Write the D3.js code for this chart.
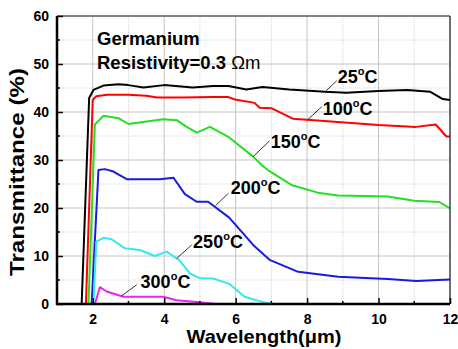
<!DOCTYPE html>
<html>
<head>
<meta charset="utf-8">
<script src="https://cdn.jsdelivr.net/npm/d3@7"></script>
<style>
  body { margin: 0; background: #fff; }
  text { font-family: "Liberation Sans", Arial, sans-serif; }
</style>
</head>
<body>
<script>
// Data (wavelength in um, transmittance in %)
let wl25 = [1, 1.69, 1.9, 2.02, 2.3, 2.72, 3.0, 3.42, 4.0, 4.8, 5.37, 5.8, 6.3, 6.75, 7.5, 8.5, 9.1, 10.0, 10.8, 11.45, 11.8, 12];
let tr25 = [0, 0, 42.9, 44.6, 45.5, 45.8, 45.6, 45.1, 45.6, 45.1, 45.4, 45.4, 44.7, 45.2, 44.7, 44.2, 44.0, 44.4, 44.6, 44.2, 42.7, 42.5];

let wl100 = [1, 1.81, 2.0, 2.1, 2.4, 3.0, 3.5, 3.8, 4.5, 5.37, 5.8, 5.98, 6.53, 6.67, 7.0, 7.6, 8.0, 10.0, 11.05, 11.6, 11.9, 12];
let tr100 = [0, 0, 42.5, 43.3, 43.6, 43.6, 43.4, 43.0, 43.0, 43.1, 43.1, 42.6, 41.9, 40.9, 40.8, 38.6, 38.4, 37.3, 36.9, 37.4, 34.9, 34.9];

let wl150 = [1, 1.88, 2.06, 2.3, 2.72, 3.0, 3.97, 4.35, 4.63, 4.91, 5.28, 5.82, 6.49, 6.72, 6.9, 7.56, 8.3, 8.87, 10.26, 11.0, 11.7, 12];
let tr150 = [0, 0, 37.4, 39.2, 38.7, 37.5, 38.5, 38.3, 36.9, 35.7, 36.9, 34.7, 30.7, 29.0, 27.9, 24.8, 23.2, 22.6, 22.4, 21.5, 21.25, 19.9];

let wl200 = [1, 1.97, 2.16, 2.34, 2.58, 2.95, 3.88, 4.26, 4.58, 4.91, 5.23, 5.82, 6.49, 6.95, 7.75, 8.87, 10.26, 11.06, 12];
let tr200 = [0, 0, 27.9, 28.1, 27.6, 26.0, 26.0, 26.3, 22.9, 21.3, 21.3, 18.0, 12.3, 9.2, 6.7, 5.7, 5.2, 4.8, 5.1];

let wl250 = [1, 2.02, 2.1, 2.3, 2.53, 2.9, 3.32, 3.74, 4.07, 4.44, 4.72, 5.0, 5.37, 5.82, 6.25, 6.72, 7.0];
let tr250 = [0, 0, 13.0, 13.8, 13.5, 11.6, 11.25, 10.0, 10.9, 9.0, 6.4, 5.35, 5.3, 4.2, 1.5, 0.5, 0];

let wl300 = [1, 2.06, 2.2, 2.39, 2.86, 3.97, 4.35, 4.91, 5.47];
let tr300 = [0, 0, 3.5, 2.6, 1.5, 1.5, 0.8, 0.4, 0];

let seriesNames = ["25", "100", "150", "200", "250", "300"];
let seriesColors = ["#000000", "#ff0000", "#22e022", "#1a1ae0", "#33e8f0", "#ee22ee"];

let xTicks = [2, 4, 6, 8, 10, 12];
let yTicks = [0, 10, 20, 30, 40, 50, 60];

// label leader lines and text anchors, in data units
let labelLine = [
  [8.50, 44.2, 8.83, 46.5],
  [8.03, 38.5, 8.41, 41.1],
  [6.49, 30.7, 6.95, 34.0],
  [5.44, 20.5, 5.80, 23.1],
  [4.35, 9.5, 4.77, 12.3],
  [2.81, 1.7, 3.23, 4.0]
];
let labelAt = [[8.86, 46.1], [8.44, 39.4], [6.98, 32.4], [5.86, 22.9], [4.81, 11.6], [3.34, 3.3]];

let width = 458;
let height = 349;
let margins = { top: 16, right: 8, bottom: 45, left: 57 };
let chart_width = width - margins.left - margins.right;
let chart_height = height - margins.top - margins.bottom;

let svg = d3.select("body")
  .append("svg")
  .attr("width", width)
  .attr("height", height);

let chart_group = svg.append("g")
  .attr("transform", `translate(${margins.left}, ${margins.top})`);

let x = d3.scaleLinear().domain([1, 12]).range([0, chart_width]);
let y = d3.scaleLinear().domain([0, 60]).range([chart_height, 0]);

// grid: solid at major values, dotted at minor ones
let xMinor = d3.range(1, 13, 1).filter(v => xTicks.indexOf(v) < 0);
let yMinor = d3.range(5, 60, 10);

chart_group.append("g").selectAll("line")
  .data(xMinor)
  .enter().append("line")
  .attr("x1", d => x(d)).attr("x2", d => x(d))
  .attr("y1", 0).attr("y2", chart_height)
  .attr("stroke", "#d4d4d4").attr("stroke-dasharray", "1,1");
chart_group.append("g").selectAll("line")
  .data(yMinor)
  .enter().append("line")
  .attr("y1", d => y(d)).attr("y2", d => y(d))
  .attr("x1", 0).attr("x2", chart_width)
  .attr("stroke", "#d4d4d4").attr("stroke-dasharray", "1,1");
chart_group.append("g").selectAll("line")
  .data(xTicks)
  .enter().append("line")
  .attr("x1", d => x(d)).attr("x2", d => x(d))
  .attr("y1", 0).attr("y2", chart_height)
  .attr("stroke", "#c4c4c4");
chart_group.append("g").selectAll("line")
  .data(yTicks)
  .enter().append("line")
  .attr("y1", d => y(d)).attr("y2", d => y(d))
  .attr("x1", 0).attr("x2", chart_width)
  .attr("stroke", "#c4c4c4");

// curves
let allX = [wl25, wl100, wl150, wl200, wl250, wl300];
let allY = [tr25, tr100, tr150, tr200, tr250, tr300];
let line = d3.line().x(d => x(d[0])).y(d => y(d[1]));

allX.forEach(function(xs, i) {
  chart_group.append("path")
    .datum(xs.map((v, j) => [v, allY[i][j]]))
    .attr("fill", "none")
    .attr("stroke", seriesColors[i])
    .attr("stroke-width", 2)
    .attr("stroke-linejoin", "round")
    .attr("d", line);
});

// frame: thin top and right, heavy left and bottom
chart_group.append("line")
  .attr("x1", 0).attr("x2", chart_width).attr("y1", 0).attr("y2", 0)
  .attr("stroke", "#222").attr("stroke-width", 1.2);
chart_group.append("line")
  .attr("x1", chart_width).attr("x2", chart_width).attr("y1", 0).attr("y2", chart_height)
  .attr("stroke", "#222").attr("stroke-width", 1.2);

let x_axis = d3.axisBottom(x).tickValues(xTicks).tickSize(-6).tickPadding(10).tickFormat(d3.format("d"));
let y_axis = d3.axisLeft(y).tickValues(yTicks).tickSize(-6).tickPadding(8).tickFormat(d3.format("d"));

let xg = chart_group.append("g")
  .attr("transform", `translate(0, ${chart_height})`)
  .call(x_axis);
let yg = chart_group.append("g")
  .call(y_axis);

// minor ticks
xg.selectAll(".minor").data(xMinor).enter().append("line")
  .attr("x1", d => x(d)).attr("x2", d => x(d)).attr("y1", 0).attr("y2", -3)
  .attr("stroke", "#000").attr("stroke-width", 1.5);
yg.selectAll(".minor").data(yMinor).enter().append("line")
  .attr("y1", d => y(d)).attr("y2", d => y(d)).attr("x1", 0).attr("x2", 3)
  .attr("stroke", "#000").attr("stroke-width", 1.5);

[xg, yg].forEach(function(g) {
  g.select(".domain").attr("stroke", "#000").attr("stroke-width", 2.5);
  g.selectAll(".tick line").attr("stroke", "#000").attr("stroke-width", 1.5);
  g.selectAll(".tick text")
    .style("font-size", "14px")
    .style("font-weight", "bold")
    .attr("fill", "#000");
});
yg.select(".domain").attr("d", `M0,${chart_height + 1}V0`);
xg.select(".domain").attr("d", `M-1,0H${chart_width}`);

// temperature labels with leader lines
labelLine.forEach(function(l, i) {
  chart_group.append("line")
    .attr("x1", x(l[0])).attr("y1", y(l[1]))
    .attr("x2", x(l[2])).attr("y2", y(l[3]))
    .attr("stroke", "#000").attr("stroke-width", 0.8);
  let t = chart_group.append("text")
    .attr("x", x(labelAt[i][0]))
    .attr("y", y(labelAt[i][1]))
    .style("font-size", "18px")
    .style("font-weight", "bold");
  t.append("tspan").text(seriesNames[i]);
  t.append("tspan").attr("dy", -8).style("font-size", "11px").text("o");
  t.append("tspan").attr("dy", 8).text("C");
});

// sample info
chart_group.append("text")
  .attr("x", 40).attr("y", 29)
  .style("font-size", "18.5px").style("font-weight", "bold")
  .text("Germanium");
let res = chart_group.append("text")
  .attr("x", 40).attr("y", 52.5)
  .style("font-size", "18.5px").style("font-weight", "bold");
res.append("tspan").text("Resistivity=0.3 ");
res.append("tspan").style("font-weight", "normal").text("\u03A9m");

// axis titles
svg.append("text")
  .attr("x", 264).attr("y", 343)
  .attr("text-anchor", "middle")
  .attr("textLength", 155)
  .attr("lengthAdjust", "spacingAndGlyphs")
  .style("font-size", "19px").style("font-weight", "bold")
  .text("Wavelength(\u03BCm)");

svg.append("text")
  .attr("transform", "translate(24, 172) rotate(-90)")
  .attr("text-anchor", "middle")
  .attr("textLength", 208)
  .attr("lengthAdjust", "spacingAndGlyphs")
  .style("font-size", "20px").style("font-weight", "bold")
  .text("Transmittance (%)");
</script>
</body>
</html>
